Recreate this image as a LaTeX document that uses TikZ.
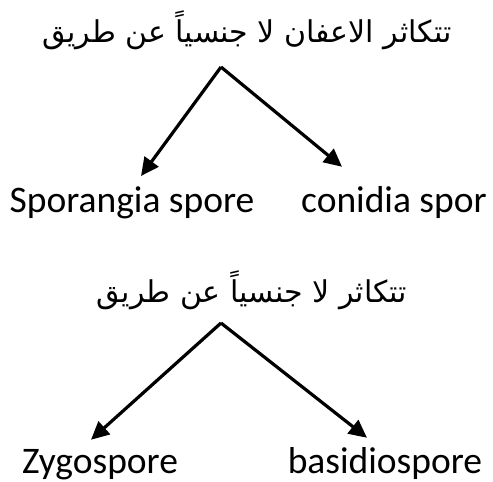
\documentclass[tikz,border=0pt]{standalone}
\usepackage{fontspec}
\setmainfont{Carlito}
\newfontfamily\arabicfont[Script=Arabic]{DejaVu Sans}
\TeXXeTstate=1
\usetikzlibrary{arrows.meta,positioning}

\begin{document}
\begin{tikzpicture}[
    x=1pt, y=-1pt,
    title/.style={inner sep=0pt, font=\arabicfont\fontsize{30}{34}\selectfont},
    spore/.style={inner sep=0pt, anchor=base, font=\fontsize{37.5}{42}\selectfont},
    link/.style={line width=3.2pt, -{Triangle[length=18pt,width=17pt]}}
]
\useasboundingbox (0,0) rectangle (493,482);

% First tree
\node[title] (title_a) at (247,30) {\beginR تتكاثر الاعفان لا جنسياً عن طريق\endR};
\coordinate (apex_a) at (221,67);
\node[spore] (sporangia) at (132,212) {Sporangia spore};
\node[spore] (conidia) at (394,212) {conidia spor};

% Second tree
\node[title] (title_b) at (252,290) {\beginR تتكاثر لا جنسياً عن طريق\endR};
\coordinate (apex_b) at (221,323);
\node[spore] (zygo) at (100,473) {Zygospore};
\node[spore] (basidio) at (385,473) {basidiospore};

% Arrows
\draw[link] (apex_a) -- ([xshift=9pt, yshift=10pt]sporangia.north);
\draw[link] (apex_a) -- ([xshift=-52pt, yshift=19pt]conidia.north);
\draw[link] (apex_b) -- ([xshift=-9pt, yshift=9pt]zygo.north);
\draw[link] (apex_b) -- ([xshift=-18pt, yshift=9pt]basidio.north);

\end{tikzpicture}
\end{document}
